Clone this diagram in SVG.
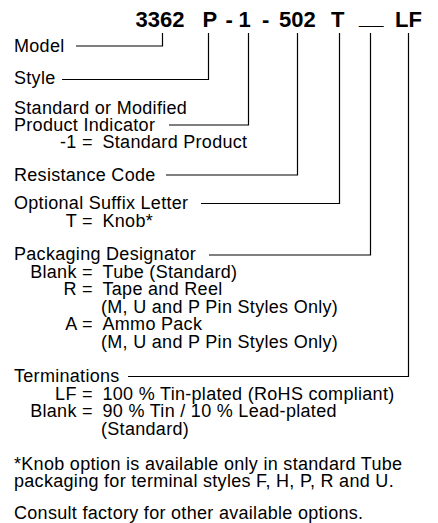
<svg xmlns="http://www.w3.org/2000/svg" width="438" height="523" viewBox="0 0 438 523">
<style>
text { font-family: "Liberation Sans", Arial, Helvetica, sans-serif; font-size: 18px; letter-spacing: 0.3px; fill: #000; }
.h { font-weight: bold; font-size: 22px; letter-spacing: 0; }
.e { text-anchor: end; }
.c { fill: none; stroke: #000; stroke-width: 1.2; }
</style>
<rect width="438" height="523" fill="#fff"/>
<g id="title">
<text class="h" x="135.5" y="27">3362</text>
<text class="h" x="202.5" y="27">P</text>
<text class="h" x="225.5" y="27">-</text>
<text class="h" x="238.5" y="27">1</text>
<text class="h" x="262" y="27">-</text>
<text class="h" x="279" y="27">502</text>
<text class="h" x="331" y="27">T</text>
<text class="h" x="359" y="24">__</text>
<text class="h" x="395" y="27">LF</text>
</g>
<g id="connectors">
<path class="c" d="M76 46 H162.5 V33"/>
<path class="c" d="M62 79.5 H208.5 V33"/>
<path class="c" d="M169 125 H248.5 V33"/>
<path class="c" d="M166 175 H297.5 V33"/>
<path class="c" d="M201 203.5 H339.5 V33"/>
<path class="c" d="M209 255 H370.5 V33"/>
<path class="c" d="M128 376.5 H408.5 V33"/>
</g>
<g id="model"><text x="14" y="51.5">Model</text></g>
<g id="style"><text x="14" y="84">Style</text></g>
<g id="product-indicator">
<text x="14" y="113.5">Standard or Modified</text>
<text x="14" y="130.5">Product Indicator</text>
<text class="e" x="92.8" y="148">-1 =</text>
<text x="102.5" y="148">Standard Product</text>
</g>
<g id="resistance-code"><text x="14" y="180.5">Resistance Code</text></g>
<g id="suffix-letter">
<text x="14" y="209">Optional Suffix Letter</text>
<text class="e" x="92.8" y="226.5">T =</text>
<text x="102.5" y="226.5">Knob*</text>
</g>
<g id="packaging">
<text x="14" y="260">Packaging Designator</text>
<text class="e" x="92.8" y="277.5">Blank =</text>
<text x="102.5" y="277.5">Tube (Standard)</text>
<text class="e" x="92.8" y="295">R =</text>
<text x="102.5" y="295">Tape and Reel</text>
<text x="101" y="312.5">(M, U and P Pin Styles Only)</text>
<text class="e" x="92.8" y="330">A =</text>
<text x="102.5" y="330">Ammo Pack</text>
<text x="101" y="347.5">(M, U and P Pin Styles Only)</text>
</g>
<g id="terminations">
<text x="14" y="382">Terminations</text>
<text class="e" x="92.8" y="399.5">LF =</text>
<text x="102.5" y="399.5">100 % Tin-plated (RoHS compliant)</text>
<text class="e" x="92.8" y="417">Blank =</text>
<text x="102.5" y="417">90 % Tin / 10 % Lead-plated</text>
<text x="101" y="434.5">(Standard)</text>
</g>
<g id="notes">
<text x="14" y="469.5">*Knob option is available only in standard Tube</text>
<text x="14" y="487">packaging for terminal styles F, H, P, R and U.</text>
<text x="14" y="519">Consult factory for other available options.</text>
</g>
</svg>
